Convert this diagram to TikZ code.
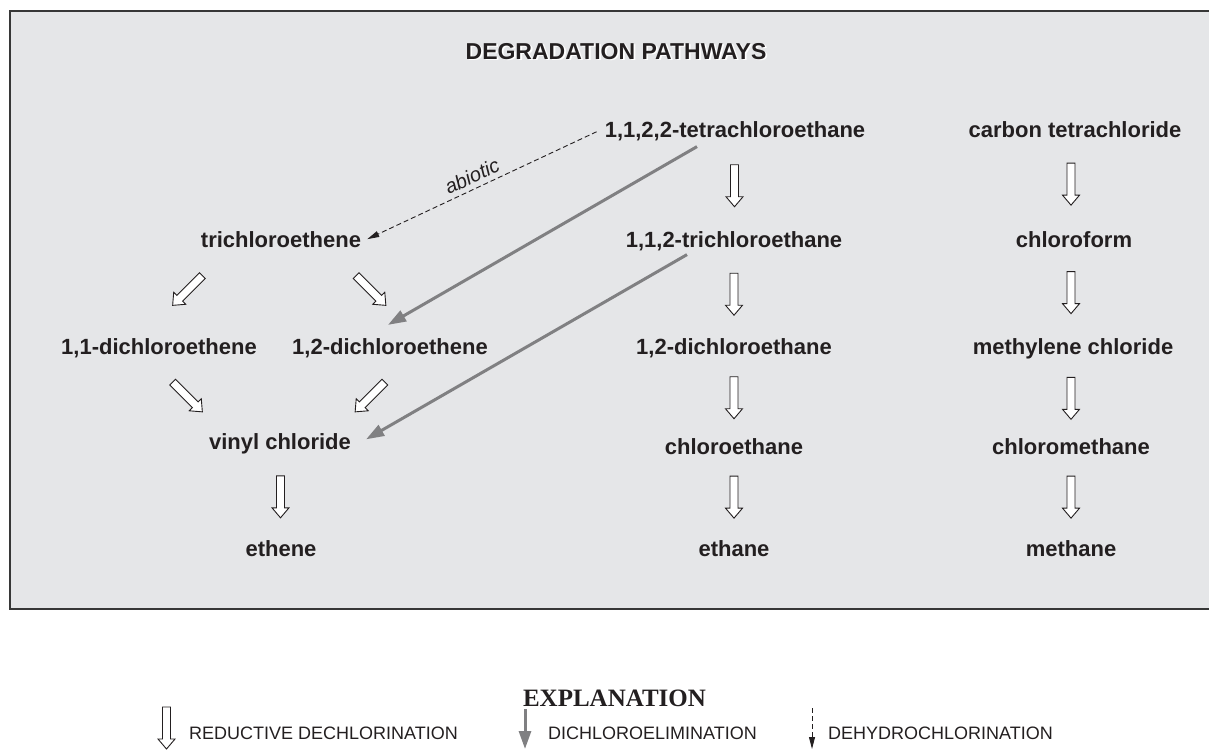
\documentclass[tikz,border=0pt]{standalone}
\usepackage{fontspec}
\setmainfont{Liberation Sans}
\newfontfamily\serifbold{Liberation Serif}
\usetikzlibrary{arrows.meta,calc}
\definecolor{boxfill}{RGB}{229,230,232}
\definecolor{ink}{RGB}{35,31,32}
\definecolor{elimgray}{RGB}{128,128,130}
\definecolor{boxline}{RGB}{55,55,55}
\begin{document}
\begin{tikzpicture}[x=1pt,y=-1pt,
  chem/.style={font=\bfseries\fontsize{22}{26}\selectfont, text=ink, inner sep=2pt, anchor=base},
  legend/.style={font=\fontsize{18}{22}\selectfont, text=ink, inner sep=0pt, anchor=base west},
  elim/.style={draw=elimgray, line width=3pt, -{Triangle[length=18pt,width=12pt]}},
  dehyd/.style={draw=ink, line width=0.9pt, dash pattern=on 5pt off 3pt, -{Triangle[length=12pt,width=6pt]}},
  rdarrow/.pic={\draw[ink, line width=0.9pt, fill=white, line join=miter] (-21,-4) -- (11,-4) -- (11,-8.5) -- (21,0) -- (11,8.5) -- (11,4) -- (-21,4) -- cycle;}
]
\useasboundingbox (0,0) rectangle (1209,750);
\clip (0,0) rectangle (1209,750);
\draw[boxline, line width=1.5pt, fill=boxfill] (10,11) rectangle (1225,609);

% title with white shadow
\node[font=\bfseries\fontsize{23}{27}\selectfont, text=white, anchor=base, inner sep=0pt] (titleshadow) at (617.8,60.8) {DEGRADATION PATHWAYS};
\node[font=\bfseries\fontsize{23}{27}\selectfont, text=ink, anchor=base, inner sep=0pt] (title) at (616,59) {DEGRADATION PATHWAYS};

% compounds
\node[chem] (tetra) at (735,137) {1,1,2,2-tetrachloroethane};
\node[chem] (ctet) at (1075,137) {carbon tetrachloride};
\node[chem] (tce) at (281,247) {trichloroethene};
\node[chem] (tca) at (734,247) {1,1,2-trichloroethane};
\node[chem] (cform) at (1074,247) {chloroform};
\node[chem] (dce11) at (159,354) {1,1-dichloroethene};
\node[chem] (dce12) at (390,354) {1,2-dichloroethene};
\node[chem] (dca) at (734,354) {1,2-dichloroethane};
\node[chem] (mcl) at (1073,354) {methylene chloride};
\node[chem] (vc) at (280,449) {vinyl chloride};
\node[chem] (cea) at (734,454) {chloroethane};
\node[chem] (cme) at (1071,454) {chloromethane};
\node[chem] (ethene) at (281,556) {ethene};
\node[chem] (ethane) at (734,556) {ethane};
\node[chem] (methane) at (1071,556) {methane};

% reductive dechlorination (hollow arrows)
\pic[rotate=-90] at ($(tetra.south)!0.5!(tca.north)$) {rdarrow};
\pic[rotate=-90] at ($(tca.south)!0.5!(dca.north)$) {rdarrow};
\pic[rotate=-90] at ($(dca.south)!0.5!(cea.north)$) {rdarrow};
\pic[rotate=-90] at ($(cea.south)!0.5!(ethane.north)$) {rdarrow};
\pic[rotate=-90] at ($(ctet.south -| 1071,0)!0.5!(cform.north -| 1071,0)$) {rdarrow};
\pic[rotate=-90] at ($(cform.south -| 1071,0)!0.5!(mcl.north -| 1071,0)$) {rdarrow};
\pic[rotate=-90] at ($(mcl.south -| 1071,0)!0.5!(cme.north -| 1071,0)$) {rdarrow};
\pic[rotate=-90] at ($(cme.south -| 1071,0)!0.5!(methane.north -| 1071,0)$) {rdarrow};
\pic[rotate=-90] at ($(vc.south)!0.5!(ethene.north)$) {rdarrow};
\pic[rotate=-135] at (187.5,290.5) {rdarrow};
\pic[rotate=-45] at (371,290.5) {rdarrow};
\pic[rotate=-45] at (187.5,397) {rdarrow};
\pic[rotate=-135] at (370,397) {rdarrow};

% dichloroelimination
\draw[elim] ([xshift=-38pt,yshift=-4pt]tetra.south) -- ([xshift=-2pt,yshift=11pt]dce12.north);
\draw[elim] ([xshift=-47pt,yshift=-2pt]tca.south) -- ([xshift=13pt,yshift=4pt]vc.east);

% dehydrochlorination (abiotic)
\draw[dehyd] ([xshift=-6pt,yshift=-1pt]tetra.west) -- node[sloped, above=5pt, pos=0.52, inner sep=0pt, font=\itshape\fontsize{20}{24}\selectfont, text=ink] (abiotic) {abiotic} ([xshift=4pt]tce.east);

% explanation
\node[font=\serifbold\bfseries\fontsize{25}{30}\selectfont, text=ink, anchor=base, inner sep=0pt] (expl) at (614.5,706) {EXPLANATION};
\pic[rotate=-90] at (166.5,728) {rdarrow};
\node[legend] (lg1) at (189,739) {REDUCTIVE DECHLORINATION};
\coordinate (g1) at (525,709);
\coordinate (g2) at (525,749);
\draw[elim] (g1) -- (g2);
\node[legend] (lg2) at (548,739) {DICHLOROELIMINATION};
\coordinate (d1) at (812,708);
\coordinate (d2) at (812,749);
\draw[dehyd] (d1) -- (d2);
\node[legend] (lg3) at (828,739) {DEHYDROCHLORINATION};
\end{tikzpicture}
\end{document}
